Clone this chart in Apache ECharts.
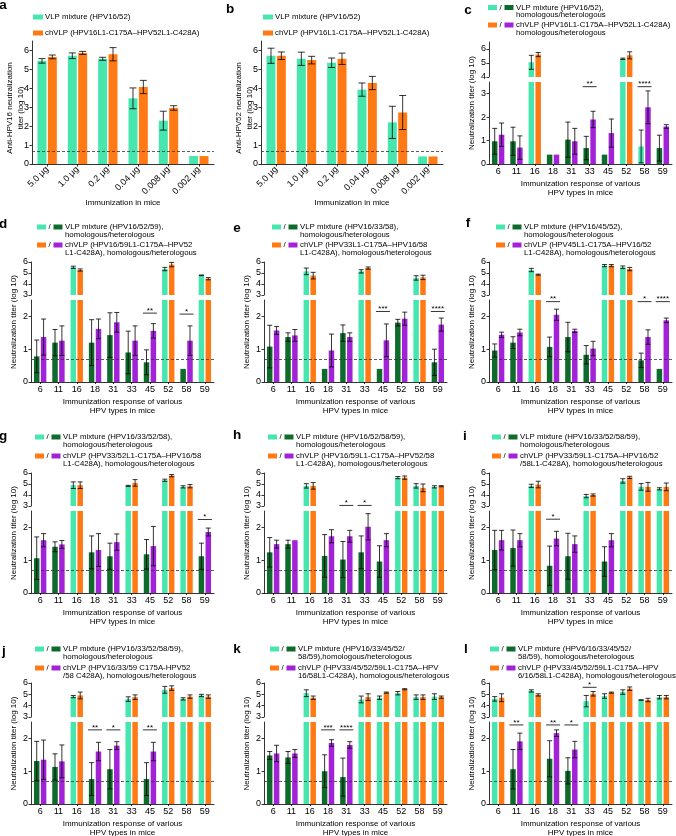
<!DOCTYPE html>
<html><head><meta charset="utf-8">
<script src="https://cdn.jsdelivr.net/npm/echarts@6/dist/echarts.min.js"></script>
<style>html,body{margin:0;padding:0;background:#fff}#c{width:676px;height:836px}</style>
</head><body><div id="c"></div>
<script>
// ---------- DATA ----------
const doses = ['5.0 μg','1.0 μg','0.2 μg','0.04 μg','0.008 μg','0.002 μg'];
const hpvTypes = ['6','11','16','18','31','33','45','52','58','59'];

// panel a (anti-HPV16)
const aVlp   = [5.45, 5.72, 5.56, 3.47, 2.29, 0.42];
const aVlpSd = [0.12, 0.15, 0.08, 0.55, 0.50, 0];
const aCh    = [5.66, 5.87, 5.80, 4.07, 2.96, 0.42];
const aChSd  = [0.10, 0.08, 0.35, 0.35, 0.12, 0];
// panel b (anti-HPV52)
const bVlp   = [5.72, 5.56, 5.35, 3.93, 2.20, 0.40];
const bVlpSd = [0.40, 0.35, 0.25, 0.35, 0.85, 0];
const bCh    = [5.72, 5.49, 5.56, 4.28, 2.72, 0.40];
const bChSd  = [0.20, 0.20, 0.30, 0.35, 0.90, 0];

// panels c-l (categories = hpvTypes)
const cVlp = [0.97, 0.97, 5.05, 0.40, 1.04, 0.68, 0.40, 5.30, 0.75, 0.68];
const cVlpSd = [0.55, 0.60, 0.50, 0, 0.75, 0.50, 0, 0.05, 0.70, 0.55];
const cCh = [1.25, 0.70, 5.60, 0.40, 0.97, 1.90, 1.32, 5.55, 2.42, 1.60];
const cChSd = [0.50, 0.50, 0.15, 0, 0.55, 0.35, 0.60, 0.25, 0.70, 0.08];
const cVlpHomo = ['16','52','58'];
const cChHomo = ['16','52'];
const cSig = [['33', 3.3, '**'], ['58', 3.3, '****']];

const dVlp = [0.78, 1.20, 5.52, 1.20, 1.43, 0.90, 0.60, 5.36, 0.40, 4.79];
const dVlpSd = [0.50, 0.40, 0.10, 0.70, 0.68, 0.65, 0.38, 0.15, 0, 0.03];
const dCh = [1.37, 1.26, 5.27, 1.62, 1.82, 1.26, 1.56, 5.76, 1.26, 4.48];
const dChSd = [0.55, 0.45, 0.10, 0.30, 0.30, 0.45, 0.22, 0.20, 0.45, 0.10];
const dHomo = ['16','52','59'];
const dSig = [['45', 2.1, '**'], ['58', 2.07, '*']];

const eVlp = [1.08, 1.37, 5.15, 0.40, 1.49, 5.15, 0.40, 1.81, 4.55, 0.60];
const eVlpSd = [0.65, 0.13, 0.30, 0, 0.25, 0.15, 0, 0.10, 0.20, 0.40];
const eCh = [1.57, 1.42, 4.76, 0.96, 1.37, 5.45, 1.27, 1.93, 4.60, 1.75];
const eChSd = [0.12, 0.18, 0.30, 0.50, 0.13, 0.10, 0.50, 0.20, 0.20, 0.20];
const eHomo = ['16','33','58'];
const eSig = [['45', 2.15, '***'], ['59', 2.15, '****']];

const fVlp = [0.96, 1.20, 5.27, 1.07, 1.37, 0.83, 5.67, 5.52, 0.66, 0.40];
const fVlpSd = [0.20, 0.18, 0.15, 0.30, 0.45, 0.28, 0.10, 0.12, 0.22, 0];
const fCh = [1.44, 1.51, 4.85, 2.05, 1.56, 1.02, 5.67, 5.36, 1.37, 1.88];
const fChSd = [0.08, 0.10, 0.05, 0.17, 0.05, 0.22, 0.10, 0.15, 0.22, 0.07];
const fHomo = ['16','45','52'];
const fSig = [['18', 2.45, '**'], ['58', 2.45, '*'], ['59', 2.45, '****']];

const gVlp = [1.06, 1.41, 4.89, 1.24, 1.12, 4.83, 1.18, 5.34, 4.74, 1.12];
const gVlpSd = [0.65, 0.15, 0.30, 0.50, 0.40, 0.05, 0.45, 0.10, 0.10, 0.40];
const gCh = [1.61, 1.48, 4.89, 1.31, 1.55, 5.10, 1.43, 5.76, 4.80, 1.86];
const gChSd = [0.20, 0.12, 0.30, 0.50, 0.25, 0.30, 0.60, 0.10, 0.15, 0.12];
const gHomo = ['16','33','52','58'];
const gSig = [['59', 2.24, '*']];

const hVlp = [1.24, 1.49, 4.83, 1.13, 1.02, 1.24, 0.96, 5.58, 4.83, 4.74];
const hVlpSd = [0.45, 0.12, 0.20, 0.65, 0.55, 0.50, 0.48, 0.10, 0.20, 0.10];
const hCh = [1.49, 1.61, 4.83, 1.73, 1.73, 2.02, 1.61, 5.58, 4.65, 4.80];
const hChSd = [0.12, 0, 0.30, 0.20, 0.18, 0.40, 0.20, 0.15, 0.35, 0.05];
const hHomo = ['16','52','58','59'];
const hSig = [['31', 2.67, '*'], ['33', 2.67, '*']];

const iVlp = [1.31, 1.37, 4.83, 0.83, 1.12, 3.90, 0.96, 5.28, 4.74, 4.56];
const iVlpSd = [0.60, 0.55, 0.15, 0.60, 0.70, 0.15, 0.45, 0.20, 0.30, 0.10];
const iCh = [1.61, 1.61, 4.95, 1.66, 1.49, 4.00, 1.61, 5.60, 4.74, 4.74];
const iChSd = [0.30, 0.20, 0.30, 0.22, 0.25, 0.10, 0.20, 0.10, 0.40, 0.35];
const iHomo = ['16','33','52','58','59'];
const iSig = [['18', 2.25, '*']];

const jVlp = [1.31, 1.13, 4.80, 0.76, 1.06, 4.58, 0.76, 5.40, 4.60, 4.90];
const jVlpSd = [0.60, 0.40, 0.10, 0.50, 0.60, 0.20, 0.50, 0.30, 0.10, 0.10];
const jCh = [1.35, 1.30, 4.90, 1.60, 1.78, 4.75, 1.60, 5.55, 4.80, 4.80];
const jChSd = [0.60, 0.50, 0.30, 0.28, 0.12, 0.20, 0.28, 0.20, 0.15, 0.15];
const jHomo = ['16','33','52','58','59'];
const jSig = [['18', 2.26, '**'], ['31', 2.26, '*'], ['45', 2.26, '**']];

const kVlp = [1.48, 1.42, 5.10, 1.00, 0.82, 4.55, 4.70, 5.10, 4.75, 4.80];
const kVlpSd = [0.12, 0.18, 0.30, 0.50, 0.58, 0.30, 0.15, 0.15, 0.20, 0.25];
const kCh = [1.54, 1.54, 4.70, 1.86, 1.80, 4.75, 5.15, 5.45, 4.75, 4.75];
const kChSd = [0.25, 0.12, 0.15, 0.10, 0.10, 0.30, 0.05, 0.05, 0.20, 0.10];
const kHomo = ['16','33','45','52','58','59'];
const kSig = [['18', 2.26, '***'], ['31', 2.26, '****']];

const lVlp = [4.60, 1.06, 5.30, 1.38, 1.01, 4.40, 4.85, 5.20, 4.50, 4.75];
const lVlpSd = [0.20, 0.60, 0.10, 0.55, 0.40, 0.50, 0.20, 0.20, 0.02, 0.15];
const lCh = [4.70, 1.91, 4.95, 2.16, 1.66, 5.05, 5.15, 5.50, 4.50, 4.75];
const lChSd = [0.35, 0.25, 0.10, 0.10, 0.25, 0.20, 0.05, 0.15, 0.15, 0.15];
const lHomo = ['6','16','33','45','52','58','59'];
const lSig = [['11', 2.41, '**'], ['18', 2.41, '**'], ['31', 2.41, '*'], ['33', 5.62, '*']];

const cutoff = 0.7;

// ---------- STYLE / LAYOUT ----------
const FONT = '"Liberation Sans", Arial, Helvetica, sans-serif';
const TXT = '#000';
const MINT = '#47E6AF', DKG = '#0E6B2C', ORG = '#FF7A14', PUR = '#A222D8';
const grids = [], xAxes = [], yAxes = [], series = [], graphic = [];

function txt(x, y, s, o) {
  o = o || {};
  return {type:'text', x:x, y:y, rotation:o.rot || 0, silent:true, z:10,
    style:{text:s, fill:TXT, font:(o.bold ? 'bold ' : '') + (o.size || 7.8) + 'px ' + FONT,
      align:o.align || 'left', verticalAlign:o.va || 'middle',
      textAlign:o.align || 'left', textVerticalAlign:o.va || 'middle', lineHeight:o.lh || 8}};
}
function rect(x, y, w, h, color) {
  return {type:'rect', shape:{x:x, y:y, width:w, height:h}, style:{fill:color}, silent:true, z:10};
}
const axisLineStyle = {color:'#000', width:0.8};
function yAxisCfg(gi, min, max, ticks) {
  return {type:'value', gridIndex:gi, min:min, max:max,
    axisLine:{show:true, lineStyle:axisLineStyle},
    axisTick:{show:true, length:2.5, lineStyle:axisLineStyle, customValues:ticks},
    axisLabel:{color:TXT, fontSize:9, fontFamily:FONT, margin:3, customValues:ticks},
    splitLine:{show:false}};
}
function barSeries(gi, vals, cats, homo, cHomo, cHet, w, gap, extra) {
  return Object.assign({type:'bar', xAxisIndex:gi, yAxisIndex:gi, barWidth:w, barGap:gap, silent:true, clip:true,
    data: vals.map((v, i) => ({value:v, itemStyle:{color: homo.indexOf(cats[i]) >= 0 ? cHomo : cHet}}))}, extra || {});
}
function errSeries(gi, items, cap) {
  return {type:'custom', xAxisIndex:gi, yAxisIndex:gi, data:items, encode:{x:0, y:1}, z:5, silent:true,
    renderItem:function(p, api) {
      const i = api.value(0), m = api.value(1), s = api.value(2), off = api.value(3);
      const t = api.coord([i, m + s]), b = api.coord([i, m - s]);
      const x = t[0] + off;
      const st = {stroke:'#000', lineWidth:0.8};
      return {type:'group', children:[
        {type:'line', shape:{x1:x, y1:t[1], x2:x, y2:b[1]}, style:st},
        {type:'line', shape:{x1:x - cap, y1:t[1], x2:x + cap, y2:t[1]}, style:st},
        {type:'line', shape:{x1:x - cap, y1:b[1], x2:x + cap, y2:b[1]}, style:st}]};
    }};
}
function errItems(vals, sds, off, lo, hi) {
  const out = [];
  vals.forEach((v, i) => { if (sds[i] > 0 && v >= lo && v <= hi) out.push([i, v, sds[i], off]); });
  return out;
}
function sigSeries(gi, sigs, hw) {
  const labels = sigs.map(s => s[2]);
  return {type:'custom', xAxisIndex:gi, yAxisIndex:gi, z:6, silent:true, encode:{x:0, y:1},
    data: sigs.map(s => [hpvTypes.indexOf(s[0]), s[1]]),
    renderItem:function(p, api) {
      const c = api.coord([api.value(0), api.value(1)]);
      return {type:'group', children:[
        {type:'line', shape:{x1:c[0] - hw, y1:c[1], x2:c[0] + hw, y2:c[1]}, style:{stroke:'#000', lineWidth:0.8}},
        {type:'text', x:c[0], y:c[1] + 1.5, style:{text:labels[p.dataIndex], fill:'#000', font:'8px ' + FONT,
          align:'center', verticalAlign:'bottom', textAlign:'center', textVerticalAlign:'bottom'}}]};
    }};
}
const markCut = {silent:true, symbol:'none', label:{show:false}, animation:false,
  lineStyle:{type:[3, 2], color:'#333', width:0.8}, data:[{yAxis:cutoff}]};

// ---------- simple panels a, b ----------
const simplePanels = [
  {letter:'a', left:32, vlp:aVlp, vlpSd:aVlpSd, ch:aCh, chSd:aChSd, ytitle:'Anti-HPV16 neutralization\ntiter (log 10)', lx:33, lp:[3, 5]},
  {letter:'b', left:261, vlp:bVlp, vlpSd:bVlpSd, ch:bCh, chSd:bChSd, ytitle:'Anti-HPV52 neutralization\ntiter (log 10)', lx:263, lp:[230, 9]}
];
simplePanels.forEach(p => {
  const gi = grids.length;
  grids.push({left:p.left, top:41, width:182, height:123, outerBoundsMode:'none'});
  xAxes.push({type:'category', gridIndex:gi, data:doses,
    axisLine:{lineStyle:axisLineStyle}, axisTick:{show:true, alignWithLabel:true, length:2.5, lineStyle:axisLineStyle},
    axisLabel:{color:TXT, fontSize:9, fontFamily:FONT, rotate:45, margin:4, interval:0},
    name:'Immunization in mice', nameLocation:'middle', nameGap:32,
    nameTextStyle:{color:TXT, fontSize:8, fontFamily:FONT}});
  yAxes.push(yAxisCfg(gi, 0, 6.5, [0, 1, 2, 3, 4, 5, 6]));
  const W = 9, GAP = '15%', off = W * 1.15 / 2;
  series.push(barSeries(gi, p.vlp, doses, doses, MINT, MINT, W, GAP, {markLine:markCut}));
  series.push(barSeries(gi, p.ch, doses, doses, ORG, ORG, W, GAP));
  series.push(errSeries(gi, errItems(p.vlp, p.vlpSd, -off, -1, 99).concat(errItems(p.ch, p.chSd, off, -1, 99)), 3.5));
  graphic.push(txt(p.lp[0], p.lp[1], p.letter, {bold:true, size:13.5, align:'center'}));
  graphic.push(txt(p.left - 17, 108, p.ytitle, {rot:Math.PI / 2, align:'center', size:8, lh:11}));
  graphic.push(rect(p.lx, 14.5, 10, 5, MINT), txt(p.lx + 12, 17, 'VLP mixture (HPV16/52)'));
  graphic.push(rect(p.lx, 30.5, 10, 5, ORG), txt(p.lx + 12, 33, 'chVLP (HPV16L1-C175A–HPV52L1-C428A)'));
});

// ---------- broken-axis panels c-l ----------
const rows = [
  {uTop:42, uH:35, uMin:4, uMax:6.5, uTicks:[4, 5, 6], lTop:82, lH:82, lMax:3.5, lTicks:[0, 1, 2, 3]},
  {uTop:262, uH:33, uMin:3, uMax:6, uTicks:[3, 4, 5, 6], lTop:300, lH:82, lMax:2.5, lTicks:[0, 1, 2]},
  {uTop:473, uH:33, uMin:3, uMax:6, uTicks:[3, 4, 5, 6], lTop:511, lH:82, lMax:2.5, lTicks:[0, 1, 2]},
  {uTop:683, uH:34, uMin:3, uMax:6, uTicks:[3, 4, 5, 6], lTop:722, lH:82, lMax:2.5, lTicks:[0, 1, 2]}
];
const colLeft = [31, 264, 489];
const broken = [
  {L:'c', row:0, col:2, vlp:cVlp, vlpSd:cVlpSd, ch:cCh, chSd:cChSd, vh:cVlpHomo, chh:cChHomo, sig:cSig, cut:false,
   lx:488, ly:[7.5, 25], lp:[468, 10],
   t1:'VLP mixture (HPV16/52),\nhomologous/heterologous', t2:'chVLP (HPV16L1-C175A–HPV52L1-C428A)\nhomologous/heterologous'},
  {L:'d', row:1, col:0, vlp:dVlp, vlpSd:dVlpSd, ch:dCh, chSd:dChSd, vh:dHomo, chh:dHomo, sig:dSig, cut:true,
   lx:37, ly:[227, 245], lp:[3, 224],
   t1:'VLP mixture (HPV16/52/59),\nhomologous/heterologous', t2:'chVLP (HPV16/59L1-C175A–HPV52\nL1-C428A), homologous/heterologous'},
  {L:'e', row:1, col:1, vlp:eVlp, vlpSd:eVlpSd, ch:eCh, chSd:eChSd, vh:eHomo, chh:eHomo, sig:eSig, cut:true,
   lx:272, ly:[227, 245], lp:[237, 228],
   t1:'VLP mixture (HPV16/33/58),\nhomologous/heterologous', t2:'chVLP (HPV33L1-C175A–HPV16/58\nL1-C428A), homologous/heterologous'},
  {L:'f', row:1, col:2, vlp:fVlp, vlpSd:fVlpSd, ch:fCh, chSd:fChSd, vh:fHomo, chh:fHomo, sig:fSig, cut:true,
   lx:496, ly:[227, 245], lp:[468, 223],
   t1:'VLP mixture (HPV16/45/52),\nhomologous/heterologous', t2:'chVLP (HPV45L1-C175A–HPV16/52\nL1-C428A), homologous/heterologous'},
  {L:'g', row:2, col:0, vlp:gVlp, vlpSd:gVlpSd, ch:gCh, chSd:gChSd, vh:gHomo, chh:gHomo, sig:gSig, cut:true,
   lx:35, ly:[437, 456], lp:[3, 436],
   t1:'VLP mixture (HPV16/33/52/58),\nhomologous/heterologous', t2:'chVLP (HPV33/52L1-C175A–HPV16/58\nL1-C428A), homologous/heterologous'},
  {L:'h', row:2, col:1, vlp:hVlp, vlpSd:hVlpSd, ch:hCh, chSd:hChSd, vh:hHomo, chh:hHomo, sig:hSig, cut:true,
   lx:268, ly:[437, 456], lp:[237, 435],
   t1:'VLP mixture (HPV16/52/58/59),\nhomologous/heterologous', t2:'chVLP (HPV16/59L1-C175A–HPV52/58\nL1-C428A), homologous/heterologous'},
  {L:'i', row:2, col:2, vlp:iVlp, vlpSd:iVlpSd, ch:iCh, chSd:iChSd, vh:iHomo, chh:iHomo, sig:iSig, cut:true,
   lx:492, ly:[437, 456], lp:[465, 436],
   t1:'VLP mixture (HPV16/33/52/58/59),\nhomologous/heterologous', t2:'chVLP (HPV33/59L1-C175A–HPV16/52\n/58L1-C428A), homologous/heterologous'},
  {L:'j', row:3, col:0, vlp:jVlp, vlpSd:jVlpSd, ch:jCh, chSd:jChSd, vh:jHomo, chh:jHomo, sig:jSig, cut:true,
   lx:35, ly:[649, 668], lp:[4, 651],
   t1:'VLP mixture (HPV16/33/52/58/59),\nhomologous/heterologous', t2:'chVLP (HPV16/33/59 C175A-HPV52\n/58 C428A), homologous/heterologous'},
  {L:'k', row:3, col:1, vlp:kVlp, vlpSd:kVlpSd, ch:kCh, chSd:kChSd, vh:kHomo, chh:kHomo, sig:kSig, cut:true,
   lx:270, ly:[649, 668], lp:[237, 649],
   t1:'VLP mixture (HPV16/33/45/52/\n58/59),homologous/heterologous', t2:'chVLP (HPV33/45/52/59L1-C175A–HPV\n16/58L1-C428A), homologous/heterologous'},
  {L:'l', row:3, col:2, vlp:lVlp, vlpSd:lVlpSd, ch:lCh, chSd:lChSd, vh:lHomo, chh:lHomo, sig:lSig, cut:true,
   lx:490, ly:[649, 668], lp:[466, 649],
   t1:'VLP mixture (HPV6/16/33/45/52/\n58/59), homologous/heterologous', t2:'chVLP (HPV33/45/52/59L1-C175A–HPV\n6/16/58L1-C428A), homologous/heterologous'}
];

broken.forEach(p => {
  const r = rows[p.row], left = colLeft[p.col], width = 183;
  const W = 5.5, GAP = '25%', off = W * 1.25 / 2;
  // upper grid
  const gu = grids.length;
  grids.push({left:left, top:r.uTop, width:width, height:r.uH, outerBoundsMode:'none'});
  xAxes.push({type:'category', gridIndex:gu, data:hpvTypes, show:false});
  yAxes.push(yAxisCfg(gu, r.uMin, r.uMax, r.uTicks));
  // lower grid
  const gl = grids.length;
  grids.push({left:left, top:r.lTop, width:width, height:r.lH, outerBoundsMode:'none'});
  xAxes.push({type:'category', gridIndex:gl, data:hpvTypes,
    axisLine:{lineStyle:axisLineStyle}, axisTick:{show:true, alignWithLabel:true, length:2, lineStyle:axisLineStyle},
    axisLabel:{color:TXT, fontSize:9, fontFamily:FONT, margin:3, interval:0},
    name:'Immunization response of various\nHPV types in mice', nameLocation:'middle', nameGap:15,
    nameTextStyle:{color:TXT, fontSize:8, fontFamily:FONT, lineHeight:9.5}});
  yAxes.push(yAxisCfg(gl, 0, r.lMax, r.lTicks));

  [gu, gl].forEach((g, k) => {
    const lo = k === 0 ? r.uMin : -1, hi = k === 0 ? 99 : r.lMax;
    series.push(barSeries(g, p.vlp, hpvTypes, p.vh, MINT, DKG, W, GAP, (k === 1 && p.cut) ? {markLine:markCut} : {}));
    series.push(barSeries(g, p.ch, hpvTypes, p.chh, ORG, PUR, W, GAP));
    series.push(errSeries(g, errItems(p.vlp, p.vlpSd, -off, lo, hi).concat(errItems(p.ch, p.chSd, off, lo, hi)), 2.5));
  });
  const sigU = p.sig.filter(s => s[1] >= r.uMin), sigL = p.sig.filter(s => s[1] < r.uMin);
  if (sigU.length) series.push(sigSeries(gu, sigU, 7));
  if (sigL.length) series.push(sigSeries(gl, sigL, 7));

  // letter, y title, legend
  graphic.push(txt(p.lp[0], p.lp[1], p.L, {bold:true, size:13.5, align:'center'}));
  graphic.push(txt(left - 17, (r.uTop + r.lTop + r.lH) / 2, 'Neutralization titer (log 10)', {rot:Math.PI / 2, align:'center', size:8}));
  const x1 = p.lx;
  [[p.ly[0], MINT, DKG, p.t1], [p.ly[1], ORG, PUR, p.t2]].forEach(row => {
    const y = row[0];
    graphic.push(rect(x1, y - 2.5, 9, 5, row[1]));
    graphic.push(txt(x1 + 12.5, y, '/', {align:'center'}));
    graphic.push(rect(x1 + 16.5, y - 2.5, 9, 5, row[2]));
    graphic.push(txt(x1 + 28, y - 4, row[3], {va:'top', lh:7.8}));
  });
});

const chart = echarts.init(document.getElementById('c'), null, {renderer:'canvas'});
chart.setOption({animation:false, backgroundColor:'#fff', grid:grids, xAxis:xAxes, yAxis:yAxes, series:series,
  graphic:{elements:graphic}});
</script></body></html>
